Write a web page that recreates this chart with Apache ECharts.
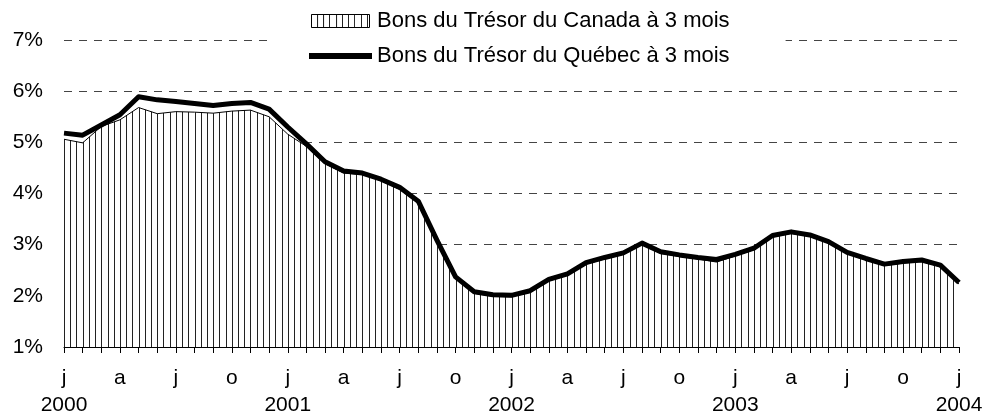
<!DOCTYPE html>
<html lang="fr">
<head>
    <meta charset="UTF-8">
    <title>Bons du Trésor à 3 mois</title>
    <script src="https://cdn.jsdelivr.net/npm/echarts@6.0.0/dist/echarts.min.js"></script>
    <style>
        body {margin: 0; background: #fff;}
        #myChart {width: 1001px; height: 420px;}
    </style>
</head>
<body>
<div id="myChart"></div>
<script type="text/javascript">
    // mois, de janvier 2000 à janvier 2004
    var mois = [
        '2000-01', '2000-02', '2000-03', '2000-04', '2000-05', '2000-06', '2000-07', '2000-08', '2000-09', '2000-10', '2000-11', '2000-12',
        '2001-01', '2001-02', '2001-03', '2001-04', '2001-05', '2001-06', '2001-07', '2001-08', '2001-09', '2001-10', '2001-11', '2001-12',
        '2002-01', '2002-02', '2002-03', '2002-04', '2002-05', '2002-06', '2002-07', '2002-08', '2002-09', '2002-10', '2002-11', '2002-12',
        '2003-01', '2003-02', '2003-03', '2003-04', '2003-05', '2003-06', '2003-07', '2003-08', '2003-09', '2003-10', '2003-11', '2003-12',
        '2004-01'
    ];
    var lettresMois = ['j', 'f', 'm', 'a', 'm', 'j', 'j', 'a', 's', 'o', 'n', 'd'];

    // taux en %
    var canada = [
        5.06, 4.99, 5.31, 5.44, 5.68, 5.56, 5.60, 5.59, 5.57, 5.61, 5.63, 5.50,
        5.16, 4.92, 4.58, 4.40, 4.37, 4.25, 4.08, 3.81, 3.06, 2.34, 2.05, 1.99,
        1.98, 2.07, 2.29, 2.40, 2.62, 2.72, 2.81, 3.00, 2.83, 2.77, 2.72, 2.66,
        2.78, 2.90, 3.15, 3.22, 3.16, 3.03, 2.82, 2.70, 2.59, 2.64, 2.67, 2.57,
        2.23
    ];
    var quebec = [
        5.18, 5.14, 5.34, 5.54, 5.89, 5.83, 5.80, 5.76, 5.72, 5.76, 5.78, 5.65,
        5.30, 4.97, 4.62, 4.44, 4.40, 4.28, 4.12, 3.85, 3.09, 2.37, 2.08, 2.02,
        2.01, 2.10, 2.32, 2.43, 2.65, 2.75, 2.84, 3.03, 2.86, 2.80, 2.75, 2.71,
        2.81, 2.93, 3.18, 3.25, 3.19, 3.06, 2.85, 2.73, 2.62, 2.67, 2.70, 2.60,
        2.26
    ];

    var nomCanada = 'Bons du Trésor du Canada à 3 mois';
    var nomQuebec = 'Bons du Trésor du Québec à 3 mois';

    var gLeft = 64, gRight = 42;

    // motif de hachures verticales (3 traits par mois)
    function hachures() {
        var c = document.createElement('canvas');
        c.width = 1001;
        c.height = 8;
        var ctx = c.getContext('2d');
        ctx.fillStyle = '#fff';
        ctx.fillRect(0, 0, c.width, c.height);
        ctx.fillStyle = '#222';
        var pas = (1001 - gLeft - gRight) / ((mois.length - 1) * 3);
        var k0 = -Math.ceil(gLeft / pas);
        for (var k = k0; gLeft + k * pas < c.width; k++) {
            ctx.fillRect(Math.round(gLeft + k * pas), 0, 1, c.height);
        }
        return c;
    }

    var motif = {image: hachures(), repeat: 'repeat'};
    var police = 'Liberation Sans, Arial, sans-serif';

    var myChart = echarts.init(document.getElementById('myChart'));
    var option = {
        animation: false,
        backgroundColor: '#fff',
        textStyle: {fontFamily: police, color: '#000'},
        grid: {left: gLeft, right: gRight, top: 40, bottom: 73},
        legend: {
            orient: 'vertical',
            left: 273,
            top: 5,
            padding: [5, 56, 5, 36],
            itemGap: 13,
            itemWidth: 63,
            itemHeight: 13,
            selectedMode: false,
            backgroundColor: '#fff',
            textStyle: {fontFamily: police, fontSize: 22, color: '#000'},
            data: [
                {
                    name: nomCanada,
                    icon: 'path://M0,0L58,0L58,13L0,13Z',
                    itemStyle: {color: motif, borderColor: '#000', borderWidth: 1}
                },
                {
                    name: nomQuebec,
                    icon: 'path://M0,0L63,0L63,6L0,6Z',
                    itemStyle: {color: '#000', borderWidth: 0}
                }
            ]
        },
        xAxis: {
            type: 'category',
            data: mois,
            boundaryGap: false,
            axisLine: {lineStyle: {color: '#000', width: 1}},
            axisTick: {show: true, interval: 0, length: 6, lineStyle: {color: '#000'}},
            axisLabel: {
                interval: 2,
                margin: 18,
                fontSize: 21,
                lineHeight: 27,
                color: '#000',
                fontFamily: police,
                formatter: function (value) {
                    var m = parseInt(value.slice(5), 10) - 1;
                    var t = lettresMois[m];
                    if (m === 0) {
                        t += '\n' + value.slice(0, 4);
                    }
                    return t;
                }
            },
            splitLine: {show: false}
        },
        yAxis: {
            type: 'value',
            min: 1,
            max: 7,
            interval: 1,
            axisLine: {show: false},
            axisTick: {show: false},
            axisLabel: {formatter: '{value}%', fontSize: 21, margin: 21, color: '#000', fontFamily: police},
            splitLine: {lineStyle: {color: '#444', width: 1, type: [8, 7]}}
        },
        series: [
            {
                name: nomCanada,
                type: 'line',
                data: canada,
                symbol: 'none',
                silent: true,
                z: 2,
                lineStyle: {color: '#000', width: 1},
                areaStyle: {color: motif, origin: 'start', opacity: 1}
            },
            {
                name: nomQuebec,
                type: 'line',
                data: quebec,
                symbol: 'none',
                silent: true,
                z: 3,
                lineStyle: {color: '#000', width: 5, join: 'round'}
            }
        ]
    };
    myChart.setOption(option);
</script>
</body>
</html>
